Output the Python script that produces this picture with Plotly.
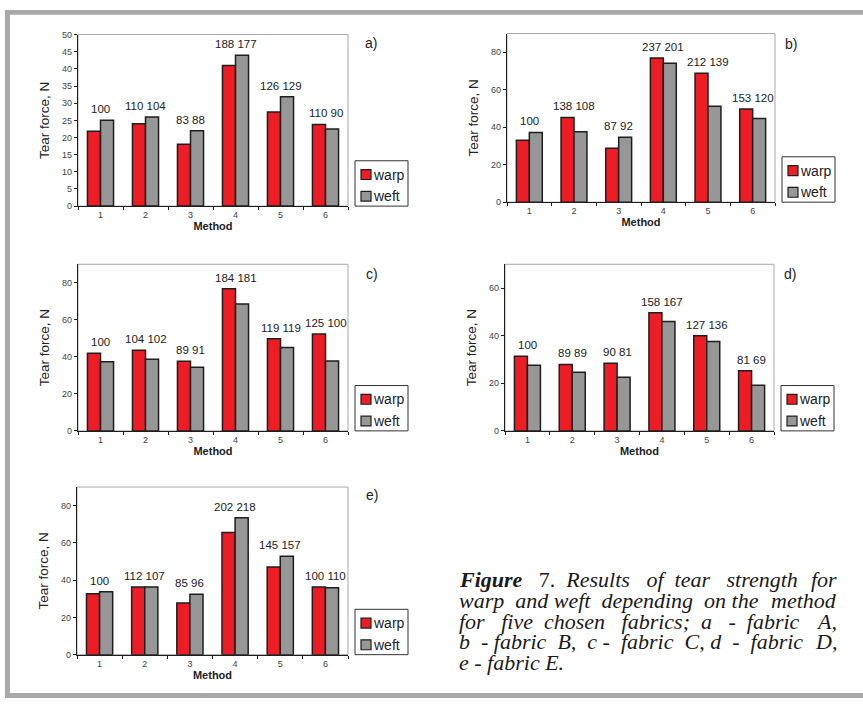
import plotly.graph_objects as go

W, H = 863, 706

methods = ["1", "2", "3", "4", "5", "6"]

# Tear force, N
a_warp = [21.8, 24.0, 18.0, 41.0, 27.4, 23.8]
a_weft = [25.0, 26.0, 22.0, 44.0, 31.9, 22.5]
b_warp = [33.0, 45.2, 28.8, 77.0, 68.8, 49.8]
b_weft = [37.2, 37.6, 34.6, 74.2, 51.2, 44.7]
c_warp = [42.0, 43.6, 37.6, 76.8, 49.8, 52.3]
c_weft = [37.4, 38.7, 34.4, 68.5, 45.0, 37.8]
d_warp = [31.4, 27.9, 28.4, 49.6, 40.0, 25.3]
d_weft = [27.6, 24.6, 22.5, 46.0, 37.6, 19.2]
e_warp = [32.7, 36.4, 27.8, 65.6, 47.1, 36.4]
e_weft = [33.8, 36.4, 32.4, 73.5, 52.9, 35.9]

# Relative values (%) shown above each pair
a_warp_rel = [100, 110, 83, 188, 126, 110]
a_weft_rel = [100, 104, 88, 177, 129, 90]
b_warp_rel = [100, 138, 87, 237, 212, 153]
b_weft_rel = [100, 108, 92, 201, 139, 120]
c_warp_rel = [100, 104, 89, 184, 119, 125]
c_weft_rel = [100, 102, 91, 181, 119, 100]
d_warp_rel = [100, 89, 90, 158, 127, 81]
d_weft_rel = [100, 89, 81, 167, 136, 69]
e_warp_rel = [100, 112, 85, 202, 145, 100]
e_weft_rel = [100, 107, 96, 218, 157, 110]

panel_labels = ["a)", "b)", "c)", "d)", "e)"]
y_max = [50, 90, 90, 70, 90]
y_dtick = [5, 20, 20, 20, 20]

series = [
    (a_warp, a_weft, a_warp_rel, a_weft_rel),
    (b_warp, b_weft, b_warp_rel, b_weft_rel),
    (c_warp, c_weft, c_warp_rel, c_weft_rel),
    (d_warp, d_weft, d_warp_rel, d_weft_rel),
    (e_warp, e_weft, e_warp_rel, e_weft_rel),
]

caption_lines = [
    ["<b><i>Figure</i></b>", "7.", "<i>Results</i>", "<i>of</i>", "<i>tear</i>",
     "<i>strength</i>", "<i>for</i>"],
    ["<i>warp</i>", "<i>and</i>", "<i>weft</i>", "<i>depending</i>", "<i>on</i>",
     "<i>the</i>", "<i>method</i>"],
    ["<i>for</i>", "<i>five</i>", "<i>chosen</i>", "<i>fabrics;</i>", "<i>a</i>", "<i>-</i>",
     "<i>fabric</i>", "<i>A,</i>"],
    ["<i>b</i>", "<i>-</i>", "<i>fabric</i>", "<i>B,</i>", "<i>c</i>", "<i>-</i>", "<i>fabric</i>",
     "<i>C,</i>", "<i>d</i>", "<i>-</i>", "<i>fabric</i>", "<i>D,</i>"],
    ["<i>e</i>", "<i>-</i>", "<i>fabric</i>", "<i>E.</i>"],
]
# extra non-breaking spaces per inner gap (approximate justification)
caption_pad = [
    [2, 1, 2, 1, 2],
    [1, 0, 1, 1, 0],
    [2, 1, 2, 1, 2, 1],
    [1, 0, 1, 1, 0, 1, 1, 0, 1, 1],
    [0, 0, 0],
]
caption_justify = [True, True, True, True, False]

# layout geometry in pixels (left, right, top, bottom of plot area; label position)
boxes = [
    dict(l=78, r=348, t=30, b=204, lab=(371, 39)),
    dict(l=507, r=775, t=29, b=200, lab=(791, 40)),
    dict(l=78, r=348, t=263, b=432, lab=(372, 273)),
    dict(l=505, r=774, t=263, b=432, lab=(790, 273)),
    dict(l=77, r=348, t=489, b=659, lab=(372, 497)),
]

RED = "#ee1c25"
GREY = "#979797"
EDGE = "#1e1e1e"
FONT = "Liberation Sans, Arial, sans-serif"
SERIF = "Liberation Serif, Times New Roman, serif"


def fx(x):
    return x / W


def fy(y):
    return 1 - y / H


fig = go.Figure()
layout = dict(
    width=W, height=H, margin=dict(l=0, r=0, t=0, b=0),
    paper_bgcolor="white", plot_bgcolor="white",
    barmode="group", bargap=0.42, bargroupgap=0.0,
    showlegend=False, font=dict(family=FONT, color="#222"),
)
shapes = []
annotations = []

for i, (warp, weft, wr, fr) in enumerate(series):
    n = "" if i == 0 else str(i + 1)
    xa, ya = "x" + n, "y" + n
    bx = boxes[i]
    fig.add_trace(go.Bar(x=methods, y=warp, name="warp", xaxis=xa, yaxis=ya,
                         marker=dict(color=RED, line=dict(color=EDGE, width=1.5))))
    fig.add_trace(go.Bar(x=methods, y=weft, name="weft", xaxis=xa, yaxis=ya,
                         marker=dict(color=GREY, line=dict(color=EDGE, width=1.5))))
    layout["xaxis" + n] = dict(
        domain=[fx(bx["l"]), fx(bx["r"])], anchor=ya, type="category",
        range=[-0.5, len(methods) - 0.5],
        showline=True, linecolor=EDGE, linewidth=1.2, ticks="outside",
        tickson="boundaries", ticklen=3, tickcolor=EDGE, showgrid=False,
        tickfont=dict(size=9, color="#444"),
        title=dict(text="<b>Method</b>", font=dict(size=11, color="#222"), standoff=3),
    )
    layout["yaxis" + n] = dict(
        domain=[fy(bx["b"]), fy(bx["t"])], anchor=xa, range=[0, y_max[i]],
        dtick=y_dtick[i], showline=True, linecolor=EDGE, linewidth=1.2,
        ticks="outside", ticklen=3, tickcolor=EDGE, showgrid=False,
        zeroline=False, tickfont=dict(size=9, color="#444"),
        title=dict(text="Tear force, N", font=dict(size=13.5, color="#222"), standoff=9),
    )
    # light plot-area frame
    shapes.append(dict(type="rect", xref=xa + " domain", yref=ya + " domain",
                       x0=0, x1=1, y0=0, y1=1, layer="below",
                       line=dict(color="#a8a8a8", width=1)))
    # data labels above each pair (category index positions)
    for k, (w, f, rw, rf) in enumerate(zip(warp, weft, wr, fr)):
        txt = str(rw) if (rw == 100 and rf == 100) else f"{rw} {rf}"
        annotations.append(dict(x=k, y=max(w, f), xref=xa, yref=ya, text=txt,
                                showarrow=False, xanchor="center", yanchor="bottom",
                                yshift=3, font=dict(size=11.5, color="#222")))
    # panel label
    annotations.append(dict(x=fx(bx["lab"][0]), y=fy(bx["lab"][1]), xref="paper",
                            yref="paper", text=panel_labels[i], showarrow=False,
                            xanchor="center", yanchor="middle",
                            font=dict(size=14, color="#222")))
    # legend box
    lx0, lx1 = bx["r"] + 7, bx["r"] + 60
    ly0, ly1 = bx["b"] - 46, bx["b"]
    shapes.append(dict(type="rect", xref="paper", yref="paper",
                       x0=fx(lx0), x1=fx(lx1), y0=fy(ly1), y1=fy(ly0),
                       line=dict(color="#333", width=1), fillcolor="white"))
    for k, (nm, col) in enumerate([("warp", RED), ("weft", GREY)]):
        cy = ly0 + 14 + k * 22
        shapes.append(dict(type="rect", xref="paper", yref="paper",
                           x0=fx(lx0 + 6), x1=fx(lx0 + 16), y0=fy(cy + 5), y1=fy(cy - 5),
                           line=dict(color=EDGE, width=1.2), fillcolor=col))
        annotations.append(dict(x=fx(lx0 + 16), y=fy(cy), xref="paper", yref="paper",
                                xanchor="left", yanchor="middle", text=nm, showarrow=False,
                                font=dict(size=14, color="#222")))

# caption (justified: left part + last word anchored right)
CAP_L, CAP_R = 458, 838
for k, words in enumerate(caption_lines):
    yk = fy(583 + k * 21)
    capfont = dict(family=SERIF, size=22, color="#1a1a1a")
    body = words if not caption_justify[k] else words[:-1]
    txt = body[0]
    for g, wd in enumerate(body[1:]):
        txt += " " + "\u00a0" * caption_pad[k][g] + wd
    annotations.append(dict(x=fx(CAP_L), y=yk, xref="paper", yref="paper",
                            xanchor="left", yanchor="middle", borderpad=0,
                            text=txt, showarrow=False, font=capfont))
    if caption_justify[k]:
        annotations.append(dict(x=fx(CAP_R), y=yk, xref="paper", yref="paper",
                                xanchor="right", yanchor="middle", borderpad=0,
                                text=words[-1], showarrow=False, font=capfont))

# page frame (grey border on top, left and bottom)
BORDER = "#a9a9a9"
shapes.append(dict(type="rect", xref="paper", yref="paper", x0=fx(5), x1=fx(W + 10),
                   y0=fy(10), y1=fy(5), line=dict(width=0), fillcolor=BORDER))
shapes.append(dict(type="rect", xref="paper", yref="paper", x0=fx(5), x1=fx(10),
                   y0=fy(703), y1=fy(5), line=dict(width=0), fillcolor=BORDER))
shapes.append(dict(type="rect", xref="paper", yref="paper", x0=fx(5), x1=fx(W + 10),
                   y0=fy(703), y1=fy(698), line=dict(width=0), fillcolor=BORDER))

layout["shapes"] = shapes
layout["annotations"] = annotations
fig.update_layout(**layout)
fig.write_html("out.html", config={"displayModeBar": False},
               post_script="document.body.style.margin='0';document.body.style.padding='0';")
